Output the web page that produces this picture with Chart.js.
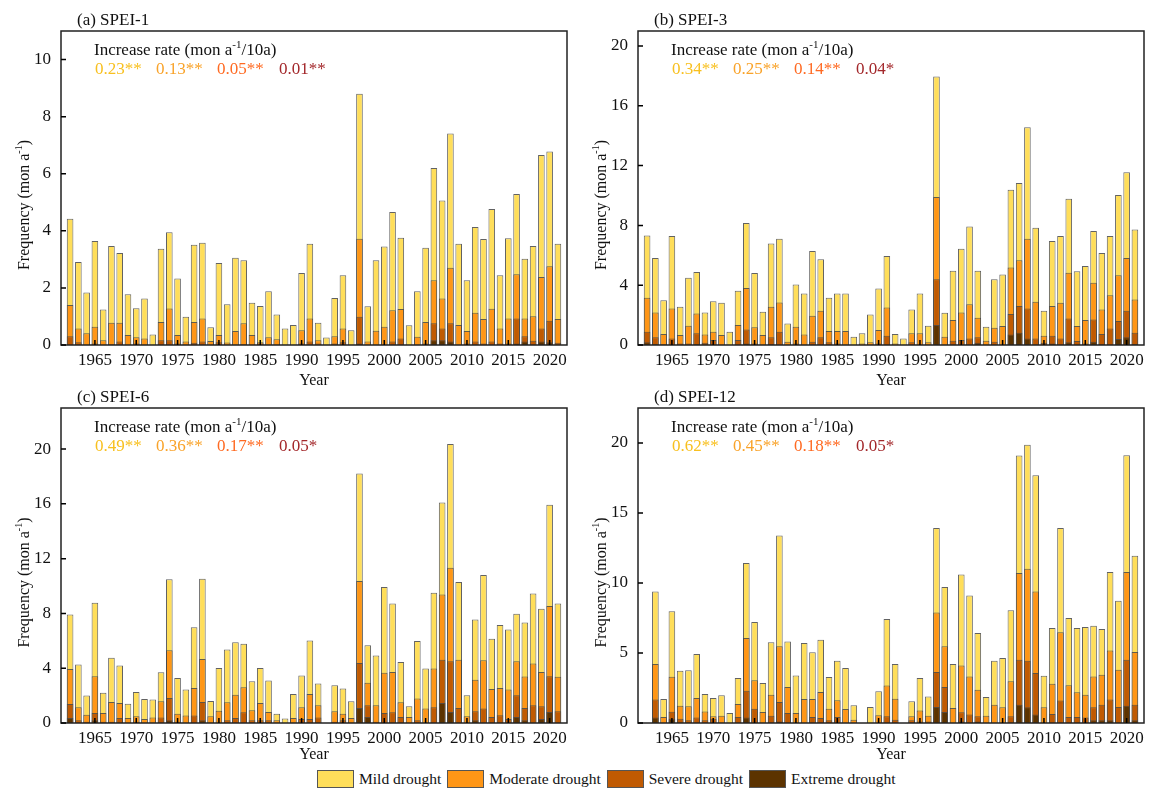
<!DOCTYPE html>
<html>
<head>
<meta charset="utf-8">
<script src="https://cdn.jsdelivr.net/npm/chart.js@4/dist/chart.umd.min.js"></script>
<style>
  body { margin: 0; background: #fff; width: 1159px; height: 799px; position: relative; overflow: hidden; font-family: "Liberation Serif", serif; }
  canvas { position: absolute; }
  #legend { position: absolute; left: 317px; top: 770px; display: flex; align-items: center; font-size: 15.5px; color: #111; }
  #legend .sw { width: 37px; height: 18px; border: 1px solid #555; box-sizing: border-box; margin-right: 5px; }
  #legend .txt { margin-right: 6px; }
</style>
</head>
<body>
<canvas id="chartA" width="580" height="390" style="left:0;top:0"></canvas>
<canvas id="chartB" width="580" height="390" style="left:577px;top:0"></canvas>
<canvas id="chartC" width="580" height="390" style="left:0;top:380px"></canvas>
<canvas id="chartD" width="580" height="390" style="left:577px;top:380px"></canvas>
<div id="legend"></div>

<script>
// years on the x axis (SPEI-12 starts one year later)
const years = [1962, 1963, 1964, 1965, 1966, 1967, 1968, 1969, 1970, 1971,
    1972, 1973, 1974, 1975, 1976, 1977, 1978, 1979, 1980, 1981,
    1982, 1983, 1984, 1985, 1986, 1987, 1988, 1989, 1990, 1991,
    1992, 1993, 1994, 1995, 1996, 1997, 1998, 1999, 2000, 2001,
    2002, 2003, 2004, 2005, 2006, 2007, 2008, 2009, 2010, 2011,
    2012, 2013, 2014, 2015, 2016, 2017, 2018, 2019, 2020, 2021];
const years12 = years.slice(1);
const xTicks = [1965, 1970, 1975, 1980, 1985, 1990, 1995, 2000, 2005, 2010, 2015, 2020];

const droughtNames = ['Mild drought', 'Moderate drought', 'Severe drought', 'Extreme drought'];
const droughtColors = ['#FFDE5A', '#FF9616', '#C05A02', '#5C3300'];
const rateColors = ['#F8C020', '#F9A32A', '#FF6A22', '#A3282B'];

// bar heights as drawn (bars overlap from zero, mild is the tallest)
// (a) SPEI-1
const spei1Mild = [4.42, 2.91, 1.84, 3.64, 1.24, 3.47, 3.22, 1.78, 1.29, 1.63,
    0.37, 3.37, 3.95, 2.33, 0.99, 3.51, 3.58, 0.62, 2.87, 1.43,
    3.06, 2.97, 1.48, 1.37, 1.88, 1.07, 0.58, 0.70, 2.52, 3.55,
    0.78, 0.26, 1.65, 2.44, 0.52, 8.80, 1.36, 2.97, 3.45, 4.66,
    3.76, 0.69, 1.88, 3.41, 6.20, 5.06, 7.41, 3.55, 2.27, 4.13,
    3.71, 4.76, 2.44, 3.74, 5.29, 3.02, 3.47, 6.66, 6.78, 3.55];
const spei1Moderate = [1.40, 0.58, 0.41, 0.64, 0.17, 0.78, 0.78, 0.35, 0.27, 0.23,
    0, 0.81, 1.28, 0.35, 0.12, 0.81, 0.93, 0.14, 0.35, 0.09,
    0.49, 0.76, 0.35, 0.10, 0.27, 0.20, 0, 0, 0.52, 0.93,
    0.17, 0, 0.31, 0.58, 0, 3.72, 0.12, 0.50, 0.64, 1.22,
    1.26, 0, 0.29, 0.81, 2.27, 1.63, 2.71, 0.70, 0.49, 1.13,
    0.91, 1.27, 0.58, 0.93, 2.48, 0.93, 1.01, 2.38, 2.76, 0.91];
const spei1Severe = [0.31, 0.10, 0, 0.05, 0, 0.03, 0.12, 0, 0.05, 0,
    0, 0.17, 0.17, 0.05, 0, 0.08, 0.12, 0, 0.10, 0,
    0, 0.03, 0, 0.05, 0, 0, 0, 0, 0.05, 0.12,
    0.05, 0, 0.05, 0.10, 0, 0.99, 0, 0, 0, 0.12,
    0.23, 0, 0, 0.05, 0.76, 0.58, 0.76, 0, 0.05, 0.12,
    0.05, 0.12, 0.05, 0.05, 0.93, 0.31, 0.15, 0.58, 0.85, 0.08];
const spei1Extreme = [0, 0, 0, 0, 0, 0, 0, 0, 0, 0,
    0, 0, 0, 0, 0, 0, 0, 0, 0, 0,
    0, 0, 0, 0, 0, 0, 0, 0, 0, 0,
    0, 0, 0, 0, 0, 0.05, 0, 0, 0, 0,
    0, 0, 0, 0, 0.17, 0.17, 0.12, 0, 0, 0,
    0, 0, 0, 0, 0.05, 0.12, 0, 0.12, 0.10, 0];

// (b) SPEI-3
const spei3Mild = [7.33, 5.82, 3.00, 7.29, 2.56, 4.49, 4.89, 2.18, 2.93, 2.82,
    0.89, 3.62, 8.16, 4.82, 2.22, 6.78, 7.11, 1.44, 4.04, 3.44,
    6.29, 5.73, 3.16, 3.44, 3.44, 0.56, 0.78, 2.04, 3.78, 5.96,
    0.73, 0.44, 2.38, 3.44, 1.29, 17.96, 2.16, 4.96, 6.44, 7.93,
    4.96, 1.22, 4.40, 4.71, 10.38, 10.84, 14.56, 7.84, 2.29, 6.96,
    7.29, 9.78, 4.93, 5.29, 7.62, 6.16, 7.29, 10.04, 11.56, 7.73];
const spei3Moderate = [3.16, 2.18, 0.73, 2.44, 0.67, 1.29, 2.11, 0.71, 0.89, 0.67,
    0, 1.33, 3.82, 1.18, 0.67, 2.56, 2.84, 0.22, 1.22, 0.71,
    1.96, 2.29, 0.93, 0.93, 0.93, 0, 0.10, 0.18, 1.00, 2.51,
    0.10, 0, 0.78, 0.78, 0.18, 9.89, 0.56, 1.67, 2.18, 2.73,
    1.82, 0.29, 1.16, 1.27, 5.18, 5.67, 7.11, 2.89, 0.62, 2.60,
    2.82, 4.84, 1.27, 1.67, 4.16, 2.38, 3.33, 4.67, 5.82, 3.04];
const spei3Severe = [0.89, 0.51, 0.05, 0.44, 0.10, 0.10, 0.78, 0.15, 0.33, 0,
    0, 0.33, 1.04, 0.10, 0, 0.51, 0.89, 0, 0.10, 0,
    0.22, 0.51, 0.18, 0.10, 0, 0, 0, 0, 0.10, 0.62,
    0, 0, 0.18, 0, 0, 4.40, 0, 0.29, 0.33, 0.44,
    0.51, 0, 0.22, 0, 2.07, 2.60, 2.44, 0.44, 0.15, 0.62,
    0.44, 1.78, 0.27, 0.10, 1.71, 0.73, 1.11, 1.60, 2.29, 0.82];
const spei3Extreme = [0.18, 0.05, 0, 0, 0, 0, 0.05, 0, 0, 0,
    0, 0, 0.10, 0, 0, 0.05, 0, 0, 0, 0,
    0, 0, 0, 0, 0, 0, 0, 0, 0, 0,
    0, 0, 0, 0, 0, 1.33, 0, 0, 0, 0,
    0.15, 0, 0, 0, 0.71, 0.82, 0.44, 0, 0, 0.10,
    0, 0.18, 0, 0, 0.22, 0.05, 0, 0.40, 0.51, 0.05];

// (c) SPEI-6
const spei6Mild = [7.93, 4.27, 2.00, 8.78, 2.20, 4.76, 4.20, 1.41, 2.27, 1.76,
    1.71, 3.71, 10.49, 3.29, 2.44, 7.00, 10.54, 1.60, 4.02, 5.37,
    5.90, 5.78, 3.05, 4.02, 3.10, 0.68, 0.32, 2.12, 3.46, 6.02,
    2.88, 0, 2.76, 2.51, 1.59, 18.22, 5.68, 4.93, 9.93, 8.73,
    4.46, 1.22, 5.98, 3.98, 9.51, 16.10, 20.37, 10.29, 2.02, 7.56,
    10.80, 6.15, 7.15, 6.83, 7.98, 7.34, 9.46, 8.34, 15.93, 8.73];
const spei6Moderate = [3.95, 1.15, 0.61, 3.41, 0.73, 1.54, 1.46, 0.37, 0.49, 0.29,
    0.41, 1.59, 5.32, 0.68, 0.54, 2.56, 4.68, 0.49, 0.90, 1.51,
    2.07, 2.61, 0.93, 1.46, 0.80, 0.20, 0, 0.37, 1.15, 2.12,
    1.29, 0, 0.85, 0.68, 0.37, 10.37, 2.93, 1.29, 3.66, 3.73,
    1.51, 0.44, 1.78, 1.05, 3.98, 9.39, 11.34, 4.61, 0.49, 3.15,
    4.59, 2.49, 2.56, 2.44, 4.51, 3.39, 4.34, 3.73, 8.54, 3.37];
const spei6Severe = [1.39, 0.20, 0.10, 0.73, 0.10, 0.10, 0.37, 0, 0.10, 0,
    0, 0.41, 1.83, 0.10, 0, 0.54, 1.54, 0, 0, 0.20,
    0.37, 0.78, 0.20, 0.20, 0.20, 0, 0, 0, 0.30, 0.29,
    0.41, 0, 0.10, 0.20, 0, 4.39, 1.29, 0.10, 0.73, 0.78,
    0.44, 0, 0.20, 0, 1.15, 4.61, 4.51, 1.10, 0, 0.85,
    1.05, 0.44, 0.56, 0.30, 2.02, 1.10, 1.29, 1.22, 3.41, 0.85];
const spei6Extreme = [0.37, 0, 0, 0.20, 0, 0, 0, 0, 0, 0,
    0, 0, 0.20, 0, 0, 0, 0.20, 0, 0, 0,
    0, 0, 0, 0, 0, 0, 0, 0, 0, 0,
    0, 0, 0, 0, 0, 1.10, 0.44, 0, 0, 0,
    0, 0, 0, 0, 0, 1.46, 0.80, 0, 0, 0.20,
    0, 0, 0, 0, 0.44, 0.20, 0, 0.30, 0.80, 0];

// (d) SPEI-12, 1963-2021
const spei12Mild = [9.40, 1.71, 7.98, 3.74, 3.76, 4.93, 2.07, 1.79, 1.98, 0.71,
    3.21, 11.43, 7.21, 2.86, 5.76, 13.40, 5.83, 3.40, 5.71, 5.05,
    5.95, 3.29, 4.45, 3.93, 1.26, 0, 1.14, 2.26, 7.43, 4.21,
    0, 1.55, 3.21, 1.90, 13.93, 9.71, 4.21, 10.60, 9.10, 6.43,
    1.86, 4.45, 4.64, 8.05, 19.10, 19.88, 17.69, 3.38, 6.79, 13.93,
    7.50, 6.79, 6.86, 6.95, 6.71, 10.79, 8.74, 19.12, 11.95];
const spei12Moderate = [4.21, 0.43, 3.30, 1.24, 1.19, 1.79, 0.83, 0.48, 0.52, 0,
    1.36, 6.07, 3.05, 0.79, 2.02, 5.48, 2.57, 0.71, 1.71, 1.71,
    2.21, 1.02, 1.62, 1.00, 0.24, 0, 0, 0.55, 2.67, 1.74,
    0, 0.48, 0.90, 0.52, 7.90, 5.48, 1.07, 4.10, 3.33, 2.38,
    0.52, 1.31, 1.12, 2.98, 10.71, 11.02, 9.40, 1.12, 2.81, 6.48,
    2.69, 2.19, 2.02, 3.33, 3.45, 5.17, 3.81, 10.79, 5.07];
const spei12Severe = [1.67, 0, 0.80, 0.30, 0.20, 0.40, 0.20, 0.30, 0, 0,
    0.43, 2.31, 1.02, 0, 0.52, 1.50, 0.71, 0, 0, 0.43,
    0.36, 0.20, 0.43, 0, 0, 0, 0, 0, 0.48, 0.24,
    0, 0.20, 0.10, 0.10, 3.64, 2.57, 0, 0.76, 0.60, 0.48,
    0, 0, 0, 0.48, 4.52, 4.45, 3.57, 0, 0.64, 1.60,
    0.43, 0.43, 0.40, 1.12, 1.31, 1.67, 1.14, 4.52, 1.31];
const spei12Extreme = [0.40, 0, 0.30, 0, 0, 0, 0, 0, 0, 0,
    0, 0.40, 0, 0, 0, 0.10, 0, 0, 0, 0,
    0, 0, 0, 0, 0, 0, 0, 0, 0, 0,
    0, 0, 0, 0, 1.14, 0.79, 0, 0.10, 0, 0.10,
    0, 0, 0, 0, 1.31, 1.12, 0.60, 0, 0, 0,
    0, 0, 0, 0.20, 0.20, 0.20, 0, 1.24, 0.20];

// increase rates (mon a-1/10a) printed in each panel
const rates1 = ['0.23**', '0.13**', '0.05**', '0.01**'];
const rates3 = ['0.34**', '0.25**', '0.14**', '0.04*'];
const rates6 = ['0.49**', '0.36**', '0.17**', '0.05*'];
const rates12 = ['0.62**', '0.45**', '0.18**', '0.05*'];

const ticks1 = [0, 2, 4, 6, 8, 10];
const ticks3 = [0, 4, 8, 12, 16, 20];
const ticks6 = [0, 4, 8, 12, 16, 20];
const ticks12 = [0, 5, 10, 15, 20];

const FONT = 'Liberation Serif';

// writes "<pre>-1<post>" with a small raised -1, starting at x (left aligned)
function drawWithSup(ctx, pre, post, x, y, size) {
    ctx.font = size + 'px "' + FONT + '"';
    ctx.fillText(pre, x, y);
    x += ctx.measureText(pre).width;
    ctx.font = Math.round(size * 0.65) + 'px "' + FONT + '"';
    ctx.fillText('-1', x, y - size * 0.36);
    x += ctx.measureText('-1').width;
    ctx.font = size + 'px "' + FONT + '"';
    ctx.fillText(post, x, y);
}

function supWidth(ctx, pre, post, size) {
    ctx.font = size + 'px "' + FONT + '"';
    let w = ctx.measureText(pre).width + ctx.measureText(post).width;
    ctx.font = Math.round(size * 0.65) + 'px "' + FONT + '"';
    return w + ctx.measureText('-1').width;
}

// panel title, rate line, y title, frame and inward ticks
const panelDeco = {
    id: 'panelDeco',
    afterDraw(chart, args, opts) {
        const ctx = chart.ctx;
        const a = chart.chartArea;
        ctx.save();
        ctx.fillStyle = '#111';
        ctx.textBaseline = 'middle';
        ctx.textAlign = 'left';
        ctx.font = '17px "' + FONT + '"';
        ctx.fillText(opts.tag, a.left + 16, a.top - 10);

        drawWithSup(ctx, 'Increase rate (mon a', '/10a)', a.left + 33, a.top + 20, 17);

        const rx = [34, 95, 156, 218];
        ctx.font = '17px "' + FONT + '"';
        opts.rates.forEach((r, i) => {
            ctx.fillStyle = rateColors[i];
            ctx.fillText(r, a.left + rx[i], a.top + 39);
        });

        // rotated y axis title
        ctx.save();
        ctx.fillStyle = '#111';
        ctx.translate(a.left - 36, (a.top + a.bottom) / 2 + 17);
        ctx.rotate(-Math.PI / 2);
        const w = supWidth(ctx, 'Frequency (mon a', ')', 16);
        drawWithSup(ctx, 'Frequency (mon a', ')', -w / 2, 0, 16);
        ctx.restore();

        // frame
        ctx.strokeStyle = '#222';
        ctx.lineWidth = 1.5;
        ctx.strokeRect(a.left, a.top, a.right - a.left, a.bottom - a.top);

        // inward ticks
        ctx.strokeStyle = '#000';
        const xs = chart.scales.x, ys = chart.scales.y;
        ctx.beginPath();
        xTicks.forEach(v => {
            const px = xs.getPixelForValue(v);
            ctx.moveTo(px, a.bottom);
            ctx.lineTo(px, a.bottom - 5);
        });
        opts.yTicks.forEach(v => {
            const py = ys.getPixelForValue(v);
            ctx.moveTo(a.left, py);
            ctx.lineTo(a.left + 5, py);
        });
        ctx.stroke();
        ctx.restore();
    }
};

function makePanel(id, tag, labels, series, yMax, yTicks, rates, padTop, xAxisH, yearPad) {
    const datasets = series.map((vals, i) => ({
        label: droughtNames[i],
        data: vals,
        backgroundColor: droughtColors[i],
        borderColor: 'rgba(70,70,70,0.85)',
        borderWidth: 1,
        grouped: false,
        order: 4 - i,
        barPercentage: 0.8,
        categoryPercentage: 1.0
    }));
    return new Chart(document.getElementById(id), {
        type: 'bar',
        data: { labels: labels, datasets: datasets },
        options: {
            responsive: false,
            animation: false,
            layout: { padding: { left: 0, right: 13, top: padTop, bottom: 0 } },
            plugins: {
                legend: { display: false },
                tooltip: { enabled: false },
                panelDeco: { tag: tag, rates: rates, yTicks: yTicks }
            },
            scales: {
                x: {
                    type: 'linear',
                    min: 1960.9,
                    max: 2022.1,
                    offset: false,
                    grid: { display: false, drawTicks: false },
                    border: { display: false },
                    afterBuildTicks: s => { s.ticks = xTicks.map(v => ({ value: v })); },
                    afterFit: s => { s.height = xAxisH; },
                    ticks: {
                        font: { family: FONT, size: 17 },
                        color: '#111',
                        padding: 5,
                        maxRotation: 0,
                        autoSkip: false,
                        callback: v => String(v)
                    },
                    title: {
                        display: true,
                        text: 'Year',
                        font: { family: FONT, size: 16 },
                        color: '#111',
                        padding: { top: 0, bottom: yearPad }
                    }
                },
                y: {
                    min: 0,
                    max: yMax,
                    grid: { display: false, drawTicks: false },
                    border: { display: false },
                    afterBuildTicks: s => { s.ticks = yTicks.map(v => ({ value: v })); },
                    afterFit: s => { s.width = 61; },
                    ticks: {
                        font: { family: FONT, size: 17 },
                        color: '#111',
                        padding: 10
                    }
                }
            }
        },
        plugins: [panelDeco]
    });
}

makePanel('chartA', '(a) SPEI-1', years, [spei1Mild, spei1Moderate, spei1Severe, spei1Extreme], 11, ticks1, rates1, 31, 45, 0);
makePanel('chartB', '(b) SPEI-3', years, [spei3Mild, spei3Moderate, spei3Severe, spei3Extreme], 21, ticks3, rates3, 31, 45, 0);
makePanel('chartC', '(c) SPEI-6', years, [spei6Mild, spei6Moderate, spei6Severe, spei6Extreme], 23, ticks6, rates6, 28, 47, 6);
makePanel('chartD', '(d) SPEI-12', years12, [spei12Mild, spei12Moderate, spei12Severe, spei12Extreme], 22.5, ticks12, rates12, 28, 47, 6);

// shared legend under the panels
const legend = document.getElementById('legend');
droughtNames.forEach((n, i) => {
    const sw = document.createElement('div');
    sw.className = 'sw';
    sw.style.background = droughtColors[i];
    const t = document.createElement('div');
    t.className = 'txt';
    t.textContent = n;
    legend.appendChild(sw);
    legend.appendChild(t);
});
</script>
</body>
</html>
